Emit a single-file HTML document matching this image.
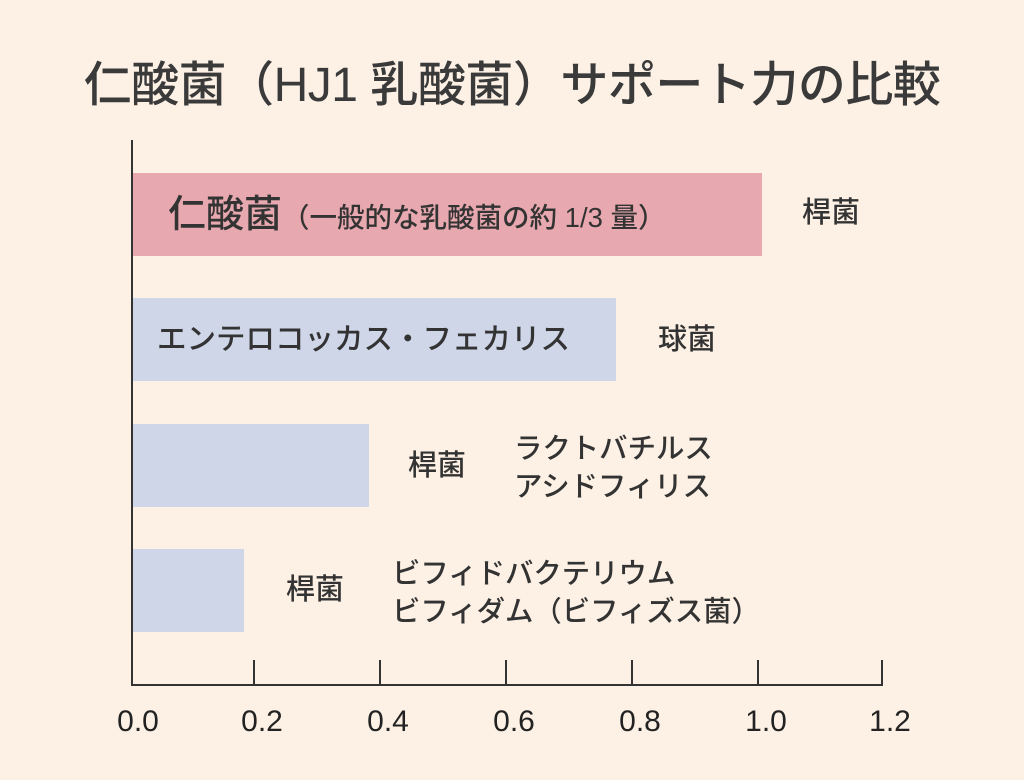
<!DOCTYPE html>
<html><head><meta charset="utf-8"><style>
html,body{margin:0;padding:0}
body{width:1024px;height:780px;background:#fdf1e5;position:relative;overflow:hidden;font-family:"Liberation Sans","Noto Sans CJK JP",sans-serif;color:#333;font-weight:500}
.a{position:absolute;white-space:nowrap}
.bar{position:absolute;left:133px;height:83px}
.t{position:absolute;background:#333}
.x{position:absolute;top:704px;width:80px;text-align:center;font-size:30px;line-height:36px;color:#222}
</style></head><body>
<div class="a" style="left:0;width:1024px;text-align:center;top:56px;font-size:48px;line-height:60px;color:#3a3a3a;letter-spacing:-0.5px">仁酸菌（HJ1 乳酸菌）サポート力の比較</div>

<div class="bar" style="top:173px;width:629px;background:#e7a9af"></div>
<div class="bar" style="top:298px;width:483px;background:#ced6e8"></div>
<div class="bar" style="top:424px;width:236px;background:#ced6e8"></div>
<div class="bar" style="top:549px;width:111px;background:#ced6e8"></div>

<div class="t" style="left:131px;top:140px;width:2px;height:546px"></div>
<div class="t" style="left:131px;top:684px;width:752px;height:2px"></div>
<div class="t" style="left:253px;top:660px;width:2px;height:25px"></div>
<div class="t" style="left:379px;top:660px;width:2px;height:25px"></div>
<div class="t" style="left:505px;top:660px;width:2px;height:25px"></div>
<div class="t" style="left:631px;top:660px;width:2px;height:25px"></div>
<div class="t" style="left:757px;top:660px;width:2px;height:25px"></div>
<div class="t" style="left:881px;top:660px;width:2px;height:25px"></div>

<div class="x" style="left:98px">0.0</div>
<div class="x" style="left:222px">0.2</div>
<div class="x" style="left:348px">0.4</div>
<div class="x" style="left:474px">0.6</div>
<div class="x" style="left:600px">0.8</div>
<div class="x" style="left:726px">1.0</div>
<div class="x" style="left:850px">1.2</div>

<div class="a" style="left:168px;top:192px;font-size:38px;line-height:46px">仁酸菌<span style="font-size:27.5px">（一般的な乳酸菌の約 1/3 量）</span></div>
<div class="a" style="left:802px;top:195px;font-size:29px;line-height:36px">桿菌</div>

<div class="a" style="left:157px;top:322px;font-size:29.5px;line-height:36px">エンテロコッカス・フェカリス</div>
<div class="a" style="left:658px;top:322px;font-size:29px;line-height:36px">球菌</div>

<div class="a" style="left:408px;top:448px;font-size:29px;line-height:36px">桿菌</div>
<div class="a" style="left:514px;top:430px;font-size:28.4px;line-height:38px">ラクトバチルス<br>アシドフィリス</div>

<div class="a" style="left:286px;top:572px;font-size:29px;line-height:36px">桿菌</div>
<div class="a" style="left:392px;top:555px;font-size:28.4px;line-height:38px">ビフィドバクテリウム<br>ビフィダム（ビフィズス菌）</div>
</body></html>
